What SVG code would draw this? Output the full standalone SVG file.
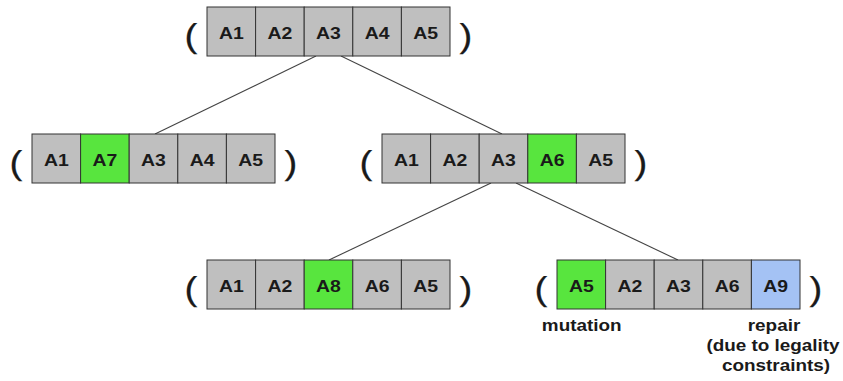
<svg xmlns="http://www.w3.org/2000/svg" width="843" height="381" viewBox="0 0 843 381">
<style>
  .cell{fill:#bfbfbf;stroke:#333;stroke-width:1}
  .g{fill:#58e53e}
  .b{fill:#a4c2f4}
  .t{font-family:"Liberation Sans",Arial,sans-serif;font-weight:bold;font-size:16.5px;fill:#1a1a1a;text-anchor:middle}
  .p{font-family:"Liberation Sans",Arial,sans-serif;font-size:33px;fill:#1a1a1a;stroke:#1a1a1a;stroke-width:0.25;text-anchor:middle}
  .lbl{font-family:"Liberation Sans",Arial,sans-serif;font-weight:bold;font-size:16px;fill:#1a1a1a;text-anchor:middle}
  .edge{stroke:#444;stroke-width:1.1;fill:none}
</style>
<rect width="843" height="381" fill="#fff"/>
<g id="connectors">
  <line class="edge" x1="316" y1="56" x2="155" y2="134"/>
  <line class="edge" x1="341" y1="56" x2="502" y2="134"/>
  <line class="edge" x1="491" y1="183" x2="329" y2="260"/>
  <line class="edge" x1="516" y1="183" x2="678" y2="260"/>
</g>
<g id="node-root">
  <text class="p" x="191" y="46.8" textLength="12.8" lengthAdjust="spacingAndGlyphs">(</text>
  <rect class="cell" x="207" y="7" width="48.6" height="49"/>
  <rect class="cell" x="255.6" y="7" width="48.6" height="49"/>
  <rect class="cell" x="304.2" y="7" width="48.6" height="49"/>
  <rect class="cell" x="352.8" y="7" width="48.6" height="49"/>
  <rect class="cell" x="401.4" y="7" width="48.6" height="49"/>
  <text class="t" x="231.3" y="38.5" textLength="24.8" lengthAdjust="spacingAndGlyphs">A1</text>
  <text class="t" x="279.9" y="38.5" textLength="24.8" lengthAdjust="spacingAndGlyphs">A2</text>
  <text class="t" x="328.5" y="38.5" textLength="24.8" lengthAdjust="spacingAndGlyphs">A3</text>
  <text class="t" x="377.1" y="38.5" textLength="24.8" lengthAdjust="spacingAndGlyphs">A4</text>
  <text class="t" x="425.7" y="38.5" textLength="24.8" lengthAdjust="spacingAndGlyphs">A5</text>
  <text class="p" x="466" y="46.8" textLength="12.8" lengthAdjust="spacingAndGlyphs">)</text>
</g>
<g id="node-left">
  <text class="p" x="16" y="173.8" textLength="12.8" lengthAdjust="spacingAndGlyphs">(</text>
  <rect class="cell" x="32" y="134" width="48.6" height="49"/>
  <rect class="cell g" x="80.6" y="134" width="48.6" height="49"/>
  <rect class="cell" x="129.2" y="134" width="48.6" height="49"/>
  <rect class="cell" x="177.8" y="134" width="48.6" height="49"/>
  <rect class="cell" x="226.4" y="134" width="48.6" height="49"/>
  <text class="t" x="56.3" y="165.5" textLength="24.8" lengthAdjust="spacingAndGlyphs">A1</text>
  <text class="t" x="104.9" y="165.5" textLength="24.8" lengthAdjust="spacingAndGlyphs">A7</text>
  <text class="t" x="153.5" y="165.5" textLength="24.8" lengthAdjust="spacingAndGlyphs">A3</text>
  <text class="t" x="202.1" y="165.5" textLength="24.8" lengthAdjust="spacingAndGlyphs">A4</text>
  <text class="t" x="250.7" y="165.5" textLength="24.8" lengthAdjust="spacingAndGlyphs">A5</text>
  <text class="p" x="291" y="173.8" textLength="12.8" lengthAdjust="spacingAndGlyphs">)</text>
</g>
<g id="node-right">
  <text class="p" x="366" y="173.8" textLength="12.8" lengthAdjust="spacingAndGlyphs">(</text>
  <rect class="cell" x="382" y="134" width="48.6" height="49"/>
  <rect class="cell" x="430.6" y="134" width="48.6" height="49"/>
  <rect class="cell" x="479.2" y="134" width="48.6" height="49"/>
  <rect class="cell g" x="527.8" y="134" width="48.6" height="49"/>
  <rect class="cell" x="576.4" y="134" width="48.6" height="49"/>
  <text class="t" x="406.3" y="165.5" textLength="24.8" lengthAdjust="spacingAndGlyphs">A1</text>
  <text class="t" x="454.9" y="165.5" textLength="24.8" lengthAdjust="spacingAndGlyphs">A2</text>
  <text class="t" x="503.5" y="165.5" textLength="24.8" lengthAdjust="spacingAndGlyphs">A3</text>
  <text class="t" x="552.1" y="165.5" textLength="24.8" lengthAdjust="spacingAndGlyphs">A6</text>
  <text class="t" x="600.7" y="165.5" textLength="24.8" lengthAdjust="spacingAndGlyphs">A5</text>
  <text class="p" x="641" y="173.8" textLength="12.8" lengthAdjust="spacingAndGlyphs">)</text>
</g>
<g id="node-bottom-left">
  <text class="p" x="191" y="299.8" textLength="12.8" lengthAdjust="spacingAndGlyphs">(</text>
  <rect class="cell" x="207" y="260" width="48.6" height="49"/>
  <rect class="cell" x="255.6" y="260" width="48.6" height="49"/>
  <rect class="cell g" x="304.2" y="260" width="48.6" height="49"/>
  <rect class="cell" x="352.8" y="260" width="48.6" height="49"/>
  <rect class="cell" x="401.4" y="260" width="48.6" height="49"/>
  <text class="t" x="231.3" y="291.5" textLength="24.8" lengthAdjust="spacingAndGlyphs">A1</text>
  <text class="t" x="279.9" y="291.5" textLength="24.8" lengthAdjust="spacingAndGlyphs">A2</text>
  <text class="t" x="328.5" y="291.5" textLength="24.8" lengthAdjust="spacingAndGlyphs">A8</text>
  <text class="t" x="377.1" y="291.5" textLength="24.8" lengthAdjust="spacingAndGlyphs">A6</text>
  <text class="t" x="425.7" y="291.5" textLength="24.8" lengthAdjust="spacingAndGlyphs">A5</text>
  <text class="p" x="466" y="299.8" textLength="12.8" lengthAdjust="spacingAndGlyphs">)</text>
</g>
<g id="node-bottom-right">
  <text class="p" x="541" y="299.8" textLength="12.8" lengthAdjust="spacingAndGlyphs">(</text>
  <rect class="cell g" x="557" y="260" width="48.6" height="49"/>
  <rect class="cell" x="605.6" y="260" width="48.6" height="49"/>
  <rect class="cell" x="654.2" y="260" width="48.6" height="49"/>
  <rect class="cell" x="702.8" y="260" width="48.6" height="49"/>
  <rect class="cell b" x="751.4" y="260" width="48.6" height="49"/>
  <text class="t" x="581.3" y="291.5" textLength="24.8" lengthAdjust="spacingAndGlyphs">A5</text>
  <text class="t" x="629.9" y="291.5" textLength="24.8" lengthAdjust="spacingAndGlyphs">A2</text>
  <text class="t" x="678.5" y="291.5" textLength="24.8" lengthAdjust="spacingAndGlyphs">A3</text>
  <text class="t" x="727.1" y="291.5" textLength="24.8" lengthAdjust="spacingAndGlyphs">A6</text>
  <text class="t" x="775.7" y="291.5" textLength="24.8" lengthAdjust="spacingAndGlyphs">A9</text>
  <text class="p" x="816" y="299.8" textLength="12.8" lengthAdjust="spacingAndGlyphs">)</text>
</g>
<g id="label-mutation">
  <text class="lbl" x="581.7" y="331" textLength="79.7" lengthAdjust="spacingAndGlyphs">mutation</text>
</g>
<g id="label-repair">
  <text class="lbl" x="774" y="331" textLength="52.5" lengthAdjust="spacingAndGlyphs">repair</text>
  <text class="lbl" x="773" y="351" textLength="133.2" lengthAdjust="spacingAndGlyphs">(due to legality</text>
  <text class="lbl" x="776" y="371" textLength="108.1" lengthAdjust="spacingAndGlyphs">constraints)</text>
</g>
</svg>
